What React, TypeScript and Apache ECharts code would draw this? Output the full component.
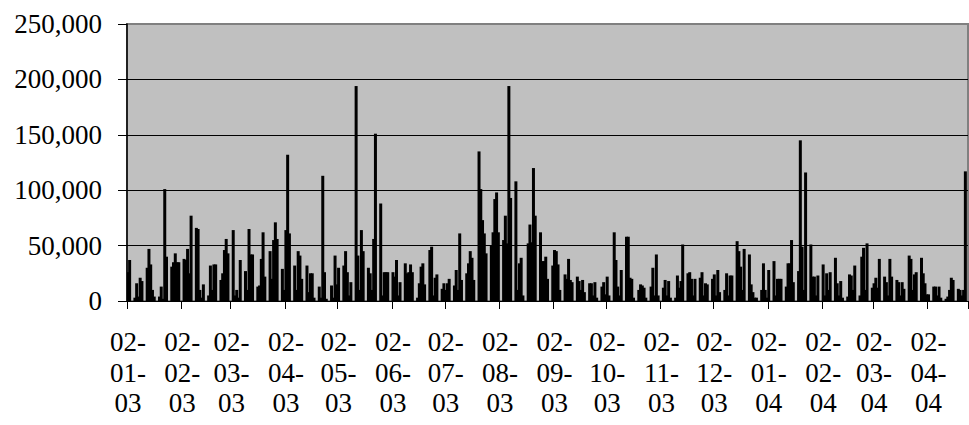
import React, { useEffect, useRef } from "react";
import * as echarts from "echarts";

// First day on the axis and number of calendar days shown
const START_YEAR = 2003;
const START_MONTH = 0; // January
const START_DAY = 2;
const DAY_COUNT = 479;

// Daily values, one array per month period (from the 2nd of a month to the 1st of the next); null = no trading
const p2003_01 = [26000, 37000, null, null, 3000, 16000, 4000, 21000, 18000, null, null, 30000, 47000, 33000, 10000, 4000, null, null, 4000, 13000, 2000, 101000, 40000, null, null, 31000, 35000, 43000, 35000, 35000, null];
const p2003_02 = [null, 38000, 37000, 47000, 25000, 77000, null, null, 66000, 65000, 10000, 3000, 15000, null, null, 5000, 32000, 10000, 33000, 33000, null, null, 19000, 25000, 46000, 56000, 43000, null];
const p2003_03 = [null, 64000, 5000, 10000, 3000, 37000, null, null, 27000, 10000, 65000, 42000, 42000, null, null, 13000, 14000, 38000, 62000, 22000, null, null, 45000, 20000, 55000, 71000, 56000, null, null, 29000, 10000];
const p2003_04 = [64000, 132000, 61000, null, null, 32000, 10000, 45000, 41000, 20000, null, null, 32000, 8000, 25000, 25000, 3000, null, null, 13000, 3000, 113000, 26000, 2000, null, null, 14000, 3000, 41000, 15000];
const p2003_05 = [30000, null, null, 32000, 45000, 26000, 5000, 17000, null, null, 194000, 41000, 10000, 64000, 45000, null, null, 30000, 25000, 10000, 56000, 151000, null, null, 88000, 5000, 26000, 26000, 26000, null, null];
const p2003_06 = [26000, 22000, 37000, 5000, 17000, null, null, 34000, 25000, 26000, 33000, 26000, null, null, 3000, 16000, 31000, 34000, 15000, null, null, 46000, 49000, 5000, 21000, 24000, null, null, 11000, 16000];
const p2003_07 = [10000, 16000, 20000, null, null, 14000, 28000, 10000, 61000, 19000, null, null, 25000, 34000, 45000, 39000, 19000, null, null, 135000, 101000, 73000, 61000, 43000, null, null, 50000, 62000, 92000, 98000, 62000];
const p2003_08 = [null, null, 55000, 77000, 52000, 194000, 93000, null, null, 108000, 10000, 34000, 39000, 5000, null, null, 52000, 69000, 53000, 120000, 77000, null, null, 62000, 36000, 36000, 40000, 20000, null, null, 32000];
const p2003_09 = [46000, 45000, 33000, 10000, null, null, 24000, 20000, 38000, 19000, 17000, null, null, 22000, 18000, 10000, 19000, 8000, null, null, 16000, 16000, 5000, 17000, 3000, null, null, 13000, 17000, 6000];
const p2003_10 = [22000, 5000, null, null, 62000, 37000, 13000, 5000, 28000, null, null, 58000, 58000, 21000, 20000, 3000, null, null, 10000, 15000, 14000, 12000, 3000, null, null, 13000, 30000, 5000, 42000, 5000, null];
const p2003_11 = [null, 12000, 19000, 5000, 18000, 3000, null, null, 3000, 23000, 12000, 18000, 51000, null, null, 25000, 26000, 20000, 5000, 20000, null, null, 21000, 26000, 5000, 16000, 15000, null, null, 20000];
const p2003_12 = [24000, 5000, 28000, 8000, null, null, 10000, 25000, 5000, 23000, 23000, null, null, 54000, 45000, 31000, 10000, 47000, null, null, 42000, 15000, 8000, 3000, 3000, null, null, 10000, 34000, 10000, 3000];
const p2004_01 = [28000, null, null, 36000, 5000, 20000, 20000, 20000, null, null, 13000, 34000, 34000, 55000, 17000, null, null, 27000, 145000, 49000, 10000, 116000, null, null, 51000, 22000, 22000, 5000, 23000, null, null];
const p2004_02 = [33000, 5000, 25000, 10000, 26000, null, null, 39000, 16000, 5000, 18000, 3000, null, null, 4000, 24000, 23000, 10000, 32000, null, null, 5000, 40000, 48000, 10000, 52000, null, null, 12000];
const p2004_03 = [16000, 21000, 12000, 38000, null, null, 22000, 17000, 5000, 38000, 22000, null, null, 19000, 17000, 5000, 17000, 11000, null, null, 41000, 38000, 10000, 24000, 26000, null, null, 39000, 25000, 16000, 6000];
const p2004_04 = [6000, null, null, 13000, 13000, 5000, 13000, 3000, null, null, 2000, 4000, 10000, 21000, 19000, null, null, 11000, 10000, 5000, 10000, 117000, null];

const values = [
  ...p2003_01, ...p2003_02, ...p2003_03, ...p2003_04, ...p2003_05, ...p2003_06,
  ...p2003_07, ...p2003_08, ...p2003_09, ...p2003_10, ...p2003_11, ...p2003_12,
  ...p2004_01, ...p2004_02, ...p2004_03, ...p2004_04,
];

const Y_MIN = 0;
const Y_MAX = 250000;
const Y_STEP = 50000;

function pad(n: number) {
  return n < 10 ? "0" + n : String(n);
}

function buildDates(): string[] {
  const out: string[] = [];
  const t0 = Date.UTC(START_YEAR, START_MONTH, START_DAY);
  for (let i = 0; i < DAY_COUNT; i++) {
    const d = new Date(t0 + i * 86400000);
    out.push(pad(d.getUTCDate()) + "-" + pad(d.getUTCMonth() + 1) + "-" + pad(d.getUTCFullYear() % 100));
  }
  return out;
}

const FONT = "'Liberation Serif', 'Times New Roman', serif";

export default function App() {
  const ref = useRef<HTMLDivElement>(null);

  useEffect(() => {
    if (!ref.current) return;
    const chart = echarts.init(ref.current, null, { renderer: "svg" });
    const dates = buildDates();
    const isMonthTick = (_i: number, v: string) => v.startsWith("02-");
    chart.setOption({
      animation: false,
      grid: {
        left: 127,
        right: 1,
        top: 24,
        bottom: 124,
        show: true,
        backgroundColor: "#c0c0c0",
        borderColor: "#808080",
        borderWidth: 2,
      },
      xAxis: {
        type: "category",
        data: dates,
        boundaryGap: true,
        axisLine: { show: true, lineStyle: { color: "#000", width: 1 } },
        axisTick: {
          show: true,
          interval: isMonthTick,
          alignWithLabel: false,
          length: 8,
          lineStyle: { color: "#000", width: 1 },
        },
        axisLabel: {
          interval: isMonthTick,
          formatter: (v: string) => v.split("-").join("-\n"),
          fontFamily: FONT,
          fontSize: 27,
          lineHeight: 30.5,
          color: "#000",
          margin: 26,
          align: "center",
        },
        splitLine: { show: false },
      },
      yAxis: {
        type: "value",
        min: Y_MIN,
        max: Y_MAX,
        interval: Y_STEP,
        axisLine: { show: true, lineStyle: { color: "#000", width: 1.5 } },
        axisTick: { show: true, inside: false, length: 9, lineStyle: { color: "#000" } },
        axisLabel: {
          formatter: (v: number) => v.toLocaleString("en-US"),
          fontFamily: FONT,
          fontSize: 27,
          color: "#000",
          margin: 25,
        },
        splitLine: {
          show: true,
          lineStyle: { color: ["#000", "#000", "#000", "#000", "#000", "#808080"], width: 1 },
        },
      },
      series: [
        {
          type: "bar",
          data: values,
          barWidth: 3,
          itemStyle: { color: "#000" },
          silent: true,
        },
      ],
    });
    return () => chart.dispose();
  }, []);

  return (
    <div
      ref={ref}
      style={{ position: "absolute", left: 0, top: 0, width: 969, height: 425 }}
    />
  );
}
